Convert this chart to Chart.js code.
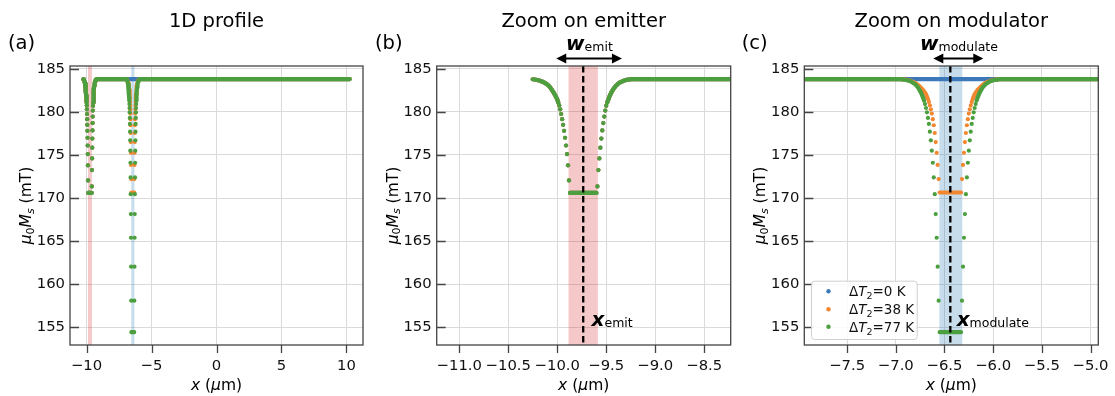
<!DOCTYPE html>
<html>
<head>
<meta charset="utf-8">
<script src="https://cdn.jsdelivr.net/npm/chart.js@4.4.1/dist/chart.umd.min.js"></script>
<style>
html, body { margin: 0; padding: 0; background: #fff; }
#wrap { position: relative; width: 1115px; height: 396px; }
canvas { position: absolute; top: 0; }
</style>
</head>
<body>
<div id="wrap">
  <canvas id="cA" width="370" height="396" style="left:0px"></canvas>
  <canvas id="cB" width="370" height="396" style="left:370px"></canvas>
  <canvas id="cC" width="375" height="396" style="left:740px"></canvas>
</div>
<script>
// ---- values ----
const seriesNames = ['0', '38', '77'];   // ΔT2 (K)
const xStart = -10.25, xEnd = 10.25;
const plateau = 183.8;

// emitter dip (same for every series)
const emitLeftX  = [-10.25, -10.2, -10.15, -10.11, -10.08, -10.06, -10.04, -10.02, -10.0, -9.99];
const emitLeftY  = [183.78, 183.7, 183.5, 183.25, 182.95, 182.65, 182.3, 181.9, 181.45, 181.1];
const emitFloorX = [-9.87, -9.60];
const emitFloorY = [170.6, 170.6];
const emitRightX = [-9.49, -9.47, -9.45, -9.43, -9.40, -9.37, -9.33, -9.29, -9.24];
const emitRightY = [181.1, 181.7, 182.2, 182.6, 183.05, 183.35, 183.58, 183.72, 183.8];
const emitStepX  = [-9.98, -9.97, -9.96, -9.95, -9.94, -9.93, -9.92, -9.91, -9.90, -9.89, -9.88,
                    -9.59, -9.58, -9.57, -9.56, -9.55, -9.54, -9.53, -9.52, -9.51, -9.50];
const emitStepY  = [180.75, 180.3, 179.75, 179.15, 178.5, 177.8, 177.0, 176.1, 175.1, 173.8, 172.05,
                    171.35, 173.25, 174.6, 175.85, 176.9, 177.85, 178.7, 179.45, 180.15, 180.7];

// modulator dip, ΔT2 = 38 K
const mod38LeftX  = [-6.95, -6.90, -6.85, -6.80, -6.76, -6.72, -6.69, -6.67];
const mod38LeftY  = [183.8, 183.75, 183.6, 183.35, 183.0, 182.55, 182.05, 181.5];
const mod38FloorX = [-6.55, -6.33];
const mod38FloorY = [170.65, 170.65];
const mod38RightX = [-6.21, -6.19, -6.16, -6.12, -6.08, -6.03, -5.98, -5.93];
const mod38RightY = [181.5, 182.05, 182.55, 183.0, 183.35, 183.6, 183.75, 183.8];
const mod38StepX  = [-6.66, -6.65, -6.64, -6.63, -6.62, -6.61, -6.60, -6.59, -6.58, -6.57, -6.56,
                     -6.32, -6.31, -6.30, -6.29, -6.28, -6.27, -6.26, -6.25, -6.24, -6.23, -6.22];
const mod38StepY  = [181.15, 180.75, 180.3, 179.8, 179.15, 178.45, 177.55, 176.5, 175.25, 173.85, 172.2,
                     172.2, 173.85, 175.25, 176.5, 177.55, 178.45, 179.15, 179.8, 180.3, 180.75, 181.15];

// modulator dip, ΔT2 = 77 K
const mod77LeftX  = [-7.0, -6.95, -6.90, -6.85, -6.80, -6.77, -6.74, -6.72, -6.71];
const mod77LeftY  = [183.8, 183.79, 183.72, 183.55, 183.2, 182.8, 182.2, 181.65, 181.3];
const mod77FloorX = [-6.55, -6.33];
const mod77FloorY = [154.45, 154.45];
const mod77RightX = [-6.17, -6.16, -6.14, -6.11, -6.08, -6.03, -5.98, -5.93, -5.88];
const mod77RightY = [181.3, 181.65, 182.2, 182.8, 183.2, 183.55, 183.72, 183.79, 183.8];
const mod77StepX  = [-6.70, -6.69, -6.68, -6.67, -6.66, -6.65, -6.64, -6.63, -6.62, -6.61, -6.60, -6.59, -6.58, -6.57, -6.56,
                     -6.32, -6.31, -6.30, -6.29, -6.28, -6.27, -6.26, -6.25, -6.24, -6.23, -6.22, -6.21, -6.20, -6.19, -6.18];
const mod77StepY  = [180.9, 180.45, 179.95, 179.3, 178.6, 177.7, 176.7, 175.5, 174.1, 172.4, 170.45, 168.15, 165.4, 162.05, 158.1,
                     158.1, 162.05, 165.4, 168.15, 170.45, 172.4, 174.1, 175.5, 176.7, 177.7, 178.6, 179.3, 179.95, 180.45, 180.9];

// regions, markers, axes
const emitBand = [-9.885, -9.585];
const modBand = [-6.553, -6.317];
const emitCenter = -9.735, modCenter = -6.44;
const wEmit = [-10.01, -9.34];
const wMod = [-6.615, -6.101];
const yRange = [152.96, 185.32];
const yTicks = [155, 160, 165, 170, 175, 180, 185];
const xRangeA = [-11.27, 11.27], xTicksA = [-10, -5, 0, 5, 10];
const xRangeB = [-11.23, -8.23], xTicksB = [-11, -10.5, -10, -9.5, -9, -8.5];
const xRangeC = [-7.94, -4.92], xTicksC = [-7.5, -7, -6.5, -6, -5.5, -5];

// ---- helpers ----
const DV = 'DejaVu Sans';
const colors = ['#3d78b8', '#f2872f', '#4b9f3f'];

function pts(xs, ys) { return xs.map((x, i) => ({ x: x, y: ys[i] })); }
function joinSegs(segs) {
  const out = [];
  segs.forEach((s, i) => {
    if (i) out.push({ x: s[0][0], y: null });
    out.push(...pts(s[0], s[1]));
  });
  return out;
}

const lineData = [
  joinSegs([[emitLeftX, emitLeftY], [emitFloorX, emitFloorY],
            [emitRightX.concat([xEnd]), emitRightY.concat([plateau])]]),
  joinSegs([[emitLeftX, emitLeftY], [emitFloorX, emitFloorY],
            [emitRightX.concat(mod38LeftX), emitRightY.concat(mod38LeftY)], [mod38FloorX, mod38FloorY],
            [mod38RightX.concat([xEnd]), mod38RightY.concat([plateau])]]),
  joinSegs([[emitLeftX, emitLeftY], [emitFloorX, emitFloorY],
            [emitRightX.concat(mod77LeftX), emitRightY.concat(mod77LeftY)], [mod77FloorX, mod77FloorY],
            [mod77RightX.concat([xEnd]), mod77RightY.concat([plateau])]])
];
const stepData = [
  pts(emitStepX, emitStepY),
  pts(emitStepX.concat(mod38StepX), emitStepY.concat(mod38StepY)),
  pts(emitStepX.concat(mod77StepX), emitStepY.concat(mod77StepY))
];

function rich(ctx, parts, x, y, align) {
  let w = 0;
  parts.forEach(p => { ctx.font = p.f; p.w = ctx.measureText(p.t).width; w += p.w; });
  let cx = align === 'center' ? x - w / 2 : x;
  ctx.textAlign = 'left';
  ctx.textBaseline = 'alphabetic';
  parts.forEach(p => { ctx.font = p.f; ctx.fillText(p.t, cx, y + (p.dy || 0)); cx += p.w; });
}

function arrow(ctx, x0, x1, y) {
  const hl = 10, hw = 5;
  ctx.strokeStyle = '#000'; ctx.fillStyle = '#000'; ctx.lineWidth = 2.2;
  ctx.beginPath(); ctx.moveTo(x0 + hl - 1, y); ctx.lineTo(x1 - hl + 1, y); ctx.stroke();
  ctx.beginPath(); ctx.moveTo(x0, y); ctx.lineTo(x0 + hl, y - hw); ctx.lineTo(x0 + hl, y + hw); ctx.closePath(); ctx.fill();
  ctx.beginPath(); ctx.moveTo(x1, y); ctx.lineTo(x1 - hl, y - hw); ctx.lineTo(x1 - hl, y + hw); ctx.closePath(); ctx.fill();
}

const decor = {
  id: 'decor',
  beforeDatasetsDraw(chart, args, p) {
    const { ctx, chartArea: a } = chart, xs = chart.scales.x;
    ctx.save();
    ctx.beginPath(); ctx.rect(a.left, a.top, a.width, a.height); ctx.clip();
    [[emitBand, 'rgba(214,39,40,0.25)'], [modBand, 'rgba(31,119,180,0.25)']].forEach(([b, c]) => {
      const x0 = xs.getPixelForValue(b[0]), x1 = xs.getPixelForValue(b[1]);
      ctx.fillStyle = c;
      ctx.fillRect(x0, a.top, x1 - x0, a.height);
    });
    ctx.restore();
  },
  afterDatasetsDraw(chart, args, p) {
    const { ctx, chartArea: a } = chart, xs = chart.scales.x, ys = chart.scales.y;
    ctx.save();
    if (p.center != null) {
      const px = xs.getPixelForValue(p.center);
      ctx.strokeStyle = '#000'; ctx.lineWidth = 2.3; ctx.setLineDash([6.5, 3.5]);
      ctx.beginPath(); ctx.moveTo(px, a.top); ctx.lineTo(px, a.bottom); ctx.stroke();
      ctx.setLineDash([]);
    }
    ctx.strokeStyle = '#444'; ctx.lineWidth = 1.3;
    ctx.strokeRect(a.left, a.top, a.width, a.height);
    ctx.beginPath();
    yTicks.forEach(v => { const py = Math.round(ys.getPixelForValue(v)) + 0.5; ctx.moveTo(a.left, py); ctx.lineTo(a.left + 9, py); });
    p.xTicks.forEach(v => { const px = Math.round(xs.getPixelForValue(v)) + 0.5; ctx.moveTo(px, a.bottom); ctx.lineTo(px, a.bottom + 8); });
    ctx.stroke();
    ctx.restore();
  },
  afterDraw(chart, args, p) {
    const { ctx, chartArea: a } = chart, xs = chart.scales.x;
    const cx = (a.left + a.right) / 2;
    ctx.save();
    ctx.fillStyle = '#000';
    rich(ctx, [{ t: p.title, f: `19.5px ${DV}` }], cx, 27, 'center');
    rich(ctx, [{ t: p.tag, f: `19.5px ${DV}` }], p.tagX, 49, 'left');
    rich(ctx, [{ t: 'x', f: `italic 15.5px ${DV}` }, { t: ' (', f: `15.5px ${DV}` },
               { t: 'μ', f: `italic 15.5px ${DV}` }, { t: 'm)', f: `15.5px ${DV}` }], cx, 390, 'center');
    ctx.save();
    ctx.translate(a.left - 39, (a.top + a.bottom) / 2);
    ctx.rotate(-Math.PI / 2);
    rich(ctx, [{ t: 'μ', f: `italic 15.5px ${DV}` }, { t: '0', f: `11px ${DV}`, dy: 2.5 },
               { t: 'M', f: `italic 15.5px ${DV}` }, { t: 's', f: `italic 11px ${DV}`, dy: 2.5 },
               { t: ' (mT)', f: `15.5px ${DV}` }], 0, 0, 'center');
    ctx.restore();
    if (p.arrow) {
      arrow(ctx, xs.getPixelForValue(p.arrow[0]), xs.getPixelForValue(p.arrow[1]), 58.5);
      ctx.fillStyle = '#000';
      rich(ctx, [{ t: 'w', f: `italic bold 20px ${DV}` }, { t: p.sub, f: `12.5px ${DV}`, dy: 1 }],
           xs.getPixelForValue(p.wAt), 50, 'left');
      rich(ctx, [{ t: 'x', f: `italic bold 20px ${DV}` }, { t: p.sub, f: `12.5px ${DV}`, dy: 1 }],
           xs.getPixelForValue(p.xAt), 326, 'left');
    }
    if (p.legend) {
      const bx = a.left + 6.7, by = a.bottom - 64.3, bw = 105.7, bh = 58.3;
      ctx.fillStyle = 'rgba(255,255,255,0.85)';
      ctx.strokeStyle = '#cfcfcf'; ctx.lineWidth = 1;
      ctx.beginPath(); ctx.roundRect(bx + 0.5, by + 0.5, bw, bh, 3); ctx.fill(); ctx.stroke();
      const rows = [by + 10.5, by + 28.5, by + 46];
      seriesNames.forEach((n, i) => {
        ctx.fillStyle = colors[i];
        ctx.beginPath(); ctx.arc(bx + 17.5, rows[i], 2.2, 0, Math.PI * 2); ctx.fill();
        ctx.fillStyle = '#111';
        rich(ctx, [{ t: 'Δ', f: `13.5px ${DV}` }, { t: 'T', f: `italic 13.5px ${DV}` },
                   { t: '2', f: `9.5px ${DV}`, dy: 3 }, { t: '=' + n + ' K', f: `13.5px ${DV}` }],
             bx + 38, rows[i] + 5, 'left');
      });
    }
    ctx.restore();
  }
};

function fmt(dec) {
  return v => (v < 0 ? '\u2212' : '') + Math.abs(v).toFixed(dec);
}

function makeChart(id, p) {
  const datasets = [];
  seriesNames.forEach((n, i) => {
    datasets.push({ data: lineData[i], showLine: true, pointRadius: 0, borderColor: colors[i],
                    borderWidth: 4.2, borderCapStyle: 'round', borderJoinStyle: 'round',
                    spanGaps: false, order: 2 * (3 - i), clip: 0 });
    datasets.push({ data: stepData[i], showLine: false, pointRadius: 2.1, pointBorderWidth: 0,
                    backgroundColor: colors[i], order: 2 * (3 - i) - 1, clip: 0 });
  });
  return new Chart(document.getElementById(id), {
    type: 'scatter',
    data: { datasets },
    plugins: [decor],
    options: {
      responsive: false, animation: false, devicePixelRatio: 1,
      layout: { padding: { top: 66, right: p.padRight, bottom: 0, left: 0 } },
      plugins: { legend: { display: false }, tooltip: { enabled: false }, decor: p },
      scales: {
        x: {
          type: 'linear', min: p.xRange[0], max: p.xRange[1],
          afterFit: s => { s.height = 51; s.paddingLeft = 0; s.paddingRight = 0; },
          afterBuildTicks: s => { s.ticks = p.xTicks.map(v => ({ value: v })); },
          grid: { color: '#dadada', lineWidth: 1, drawTicks: false },
          border: { display: false },
          ticks: { font: { family: DV, size: 14.8 }, color: '#111', padding: 12,
                   maxRotation: 0, autoSkip: false, callback: fmt(p.dec) }
        },
        y: {
          type: 'linear', min: yRange[0], max: yRange[1],
          afterFit: s => { s.width = p.left; s.paddingTop = 0; s.paddingBottom = 0; },
          afterBuildTicks: s => { s.ticks = yTicks.map(v => ({ value: v })); },
          grid: { color: '#dadada', lineWidth: 1, drawTicks: false },
          border: { display: false },
          ticks: { font: { family: DV, size: 14.8 }, color: '#111', padding: 5, callback: fmt(0) }
        }
      }
    }
  });
}

makeChart('cA', { title: '1D profile', tag: '(a)', tagX: 8, left: 70, padRight: 7,
                  xRange: xRangeA, xTicks: xTicksA, dec: 0, center: null });
makeChart('cB', { title: 'Zoom on emitter', tag: '(b)', tagX: 5, left: 66.7, padRight: 9.3,
                  xRange: xRangeB, xTicks: xTicksB, dec: 1, center: emitCenter,
                  arrow: wEmit, sub: 'emit', wAt: -9.91, xAt: -9.65 });
makeChart('cC', { title: 'Zoom on modulator', tag: '(c)', tagX: 1.7, left: 64.3, padRight: 16.7,
                  xRange: xRangeC, xTicks: xTicksC, dec: 1, center: modCenter,
                  arrow: wMod, sub: 'modulate', wAt: -6.751, xAt: -6.375, legend: true });
</script>
</body>
</html>
